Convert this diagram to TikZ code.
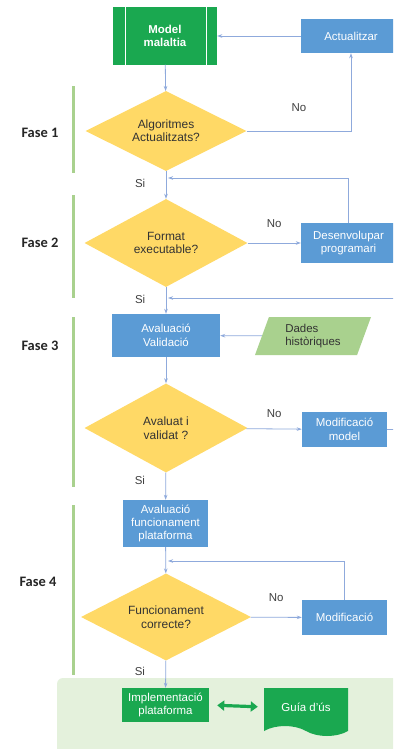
\documentclass[tikz,border=0pt]{standalone}
\usepackage{fontspec}
\setmainfont{Liberation Sans}
\newfontfamily\fasefont{Carlito}
\usetikzlibrary{
  arrows.meta,
  positioning,
  shapes.geometric,
  shapes.symbols,
  calc
}
\definecolor{flowblue}{RGB}{91,155,213}
\definecolor{decyellow}{RGB}{255,217,102}
\definecolor{flowgreen}{RGB}{26,168,80}
\definecolor{softgreen}{RGB}{169,209,142}
\definecolor{paleground}{RGB}{228,241,220}
\definecolor{linkblue}{RGB}{143,170,220}

\begin{document}
\begin{tikzpicture}[
  x=1bp, y=-1bp,
  every node/.style={font=\fontsize{11.5}{13.5}\selectfont},
  procbox/.style={fill=flowblue, text=white, align=center, inner sep=0pt},
  decision/.style={diamond, aspect=2, fill=decyellow, text=black!80,
                   align=center, inner sep=0pt,
                   font=\fontsize{12}{13.5}\selectfont},
  answer/.style={text=black!75},
  fasetext/.style={font=\fasefont\bfseries\fontsize{14.5}{16}\selectfont, text=black!85},
  link/.style={->, draw=linkblue, line width=0.8bp},
  fasebar/.style={draw=softgreen, line width=3bp},
  >={Stealth[length=5bp,width=3.5bp]}
]

\clip (0,0) rectangle (393,749);
\fill[white] (0,0) rectangle (393,749);

% final block background
\fill[paleground, rounded corners=6bp] (57,678) rectangle (420,760);

% phase bars and labels
\draw[fasebar] (73,86) -- (73,173);
\draw[fasebar] (73,195) -- (73,298);
\draw[fasebar] (73,317) -- (73,487);
\draw[fasebar] (73,505) -- (73,675);
\node[fasetext] (f1) at (40,133) {Fase 1};
\node[fasetext] (f2) at (40,243) {Fase 2};
\node[fasetext] (f3) at (40,346) {Fase 3};
\node[fasetext] (f4) at (38,582) {Fase 4};

% Fase 1
\node[procbox, fill=flowgreen, font=\bfseries\fontsize{11.5}{13.5}\selectfont,
      minimum width=104bp, minimum height=57bp] (model) at (165,36) {Model\\malaltia};
\draw[white, line width=1bp] ([xshift=13bp]model.north west) -- ([xshift=13bp]model.south west);
\draw[white, line width=1bp] ([xshift=-11bp]model.north east) -- ([xshift=-11bp]model.south east);
\node[procbox, minimum width=100bp, minimum height=34bp] (act) at (351,36) {Actualitzar};
\node[decision, minimum width=161bp, minimum height=80bp] (d1) at (166,131)
  {Algoritmes\\Actualitzats?};

% Fase 2
\node[decision, minimum width=163bp, minimum height=88bp] (d2) at (166,243)
  {Format\\executable?};
\node[procbox, minimum width=95bp, minimum height=40bp] (dev) at (348.5,243)
  {Desenvolupar\\programari};

% Fase 3
\node[procbox, minimum width=108bp, minimum height=43bp] (av) at (166,335.5)
  {Avaluació\\Validació};
\node[trapezium, trapezium left angle=60, trapezium right angle=120,
      trapezium stretches body, fill=softgreen, text=black!80, align=left,
      inner sep=0pt, minimum width=116bp, minimum height=38bp] (dades) at (313,336)
  {Dades\\històriques};
\node[decision, minimum width=163bp, minimum height=89bp] (d3) at (166,428)
  {Avaluat i\\validat ?};
\node[procbox, minimum width=85bp, minimum height=35bp] (modm) at (344.5,429.5)
  {Modificació\\model};

% Fase 4
\node[procbox, minimum width=85bp, minimum height=47bp] (avf) at (165.5,523.5)
  {Avaluació\\funcionament\\plataforma};
\node[decision, minimum width=170bp, minimum height=87bp] (d4) at (166,617)
  {Funcionament\\correcte?};
\node[procbox, minimum width=85bp, minimum height=35bp] (mod) at (344.5,617.5)
  {Modificació};

% implementation
\node[procbox, fill=flowgreen, minimum width=87bp, minimum height=34bp] (impl)
  at (165.5,705) {Implementació\\plataforma};
\node[tape, tape bend top=none, tape bend bottom=out and in, tape bend height=10bp,
      fill=flowgreen, text=white, inner sep=0pt,
      minimum width=84bp, minimum height=48bp] (guia) at (306,707) {Guía d'ús};

% join points of the loops
\coordinate (j1) at (168,178);
\coordinate (j2) at (168,298);
\coordinate (j3) at (168,561);
\coordinate (r2) at (405,298);

% connectors
\draw[link] (act) -- (model);
\draw[link] (model) -- (d1);
\draw[link] (d1.east) -| (act.south) node[pos=0.25, above=16bp, answer] {No};
\draw[link] (d1) -- (d2) node[pos=0.46, left=17bp, answer] {Si};
\draw[link] (dev.north) |- (j1);
\draw[link] (d2) -- (dev) node[midway, above=12bp, answer] {No};
\draw[link] (d2) -- (av) node[pos=0.45, left=17bp, answer] {Si};
\draw[link] (modm.east) -| (r2) -- (j2);
\draw[link] (dades) -- (av);
\draw[link] (av) -- (d3);
\draw[link] (d3) -- (modm) node[midway, above=8bp, answer] {No};
\draw[link] (d3) -- (avf) node[pos=0.3, left=17bp, answer] {Si};
\draw[link] (avf) -- (d4);
\draw[link] (mod.north) |- (j3);
\draw[link] (d4) -- (mod) node[midway, above=12bp, answer] {No};
\draw[link] (d4) -- (impl) node[pos=0.4, left=17bp, answer] {Si};
\draw[<->, draw=flowgreen, line width=3.2bp, >={Triangle[length=7bp,width=10bp]},
      shorten <=8bp, shorten >=6bp] (impl.east) -- (guia.west);

\end{tikzpicture}
\end{document}
